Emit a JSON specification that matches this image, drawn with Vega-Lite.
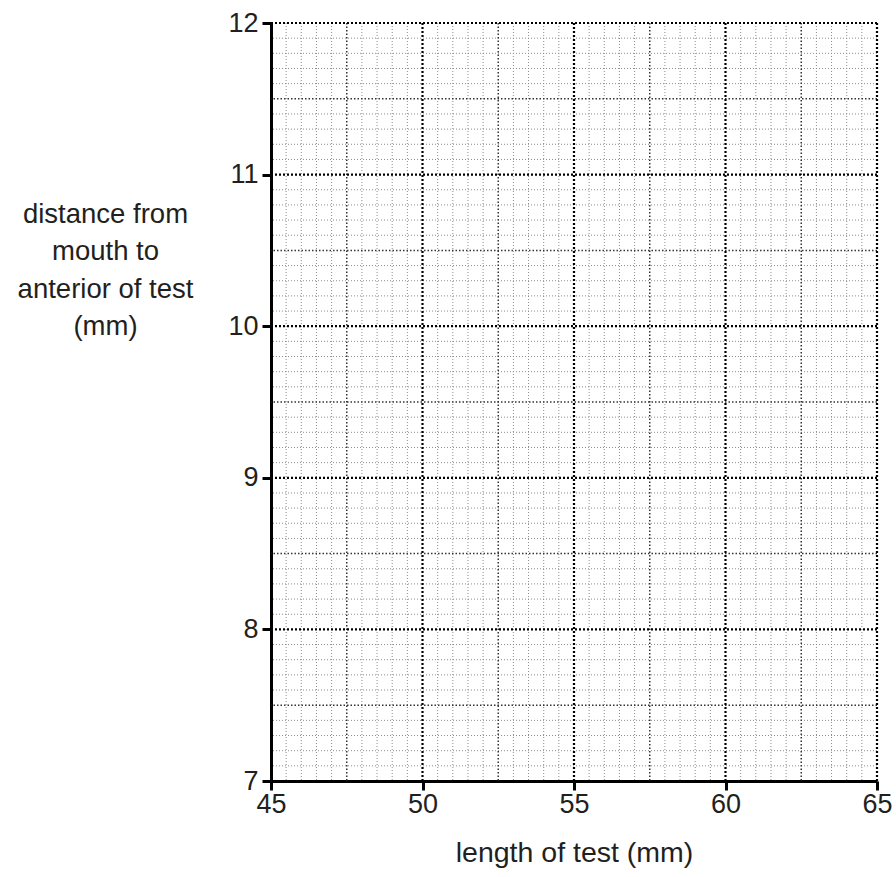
{
  "$schema": "https://vega.github.io/schema/vega-lite/v6.json",
  "width": 606,
  "height": 758,
  "autosize": {"type": "none"},
  "padding": {"left": 271, "top": 23, "right": 19, "bottom": 96},
  "background": "white",
  "config": {
    "view": {"stroke": null},
    "font": "Liberation Sans"
  },
  "datasets": {
    "xgrid": [
      {"v": 45, "level": "major"}, {"v": 45.5, "level": "minor"}, {"v": 46, "level": "minor"}, {"v": 46.5, "level": "minor"}, {"v": 47, "level": "minor"},
      {"v": 47.5, "level": "medium"}, {"v": 48, "level": "minor"}, {"v": 48.5, "level": "minor"}, {"v": 49, "level": "minor"}, {"v": 49.5, "level": "minor"},
      {"v": 50, "level": "major"}, {"v": 50.5, "level": "minor"}, {"v": 51, "level": "minor"}, {"v": 51.5, "level": "minor"}, {"v": 52, "level": "minor"},
      {"v": 52.5, "level": "medium"}, {"v": 53, "level": "minor"}, {"v": 53.5, "level": "minor"}, {"v": 54, "level": "minor"}, {"v": 54.5, "level": "minor"},
      {"v": 55, "level": "major"}, {"v": 55.5, "level": "minor"}, {"v": 56, "level": "minor"}, {"v": 56.5, "level": "minor"}, {"v": 57, "level": "minor"},
      {"v": 57.5, "level": "medium"}, {"v": 58, "level": "minor"}, {"v": 58.5, "level": "minor"}, {"v": 59, "level": "minor"}, {"v": 59.5, "level": "minor"},
      {"v": 60, "level": "major"}, {"v": 60.5, "level": "minor"}, {"v": 61, "level": "minor"}, {"v": 61.5, "level": "minor"}, {"v": 62, "level": "minor"},
      {"v": 62.5, "level": "medium"}, {"v": 63, "level": "minor"}, {"v": 63.5, "level": "minor"}, {"v": 64, "level": "minor"}, {"v": 64.5, "level": "minor"},
      {"v": 65, "level": "major"}
    ],
    "ygrid": [
      {"v": 7.0, "level": "major"}, {"v": 7.1, "level": "minor"}, {"v": 7.2, "level": "minor"}, {"v": 7.3, "level": "minor"}, {"v": 7.4, "level": "minor"},
      {"v": 7.5, "level": "medium"}, {"v": 7.6, "level": "minor"}, {"v": 7.7, "level": "minor"}, {"v": 7.8, "level": "minor"}, {"v": 7.9, "level": "minor"},
      {"v": 8.0, "level": "major"}, {"v": 8.1, "level": "minor"}, {"v": 8.2, "level": "minor"}, {"v": 8.3, "level": "minor"}, {"v": 8.4, "level": "minor"},
      {"v": 8.5, "level": "medium"}, {"v": 8.6, "level": "minor"}, {"v": 8.7, "level": "minor"}, {"v": 8.8, "level": "minor"}, {"v": 8.9, "level": "minor"},
      {"v": 9.0, "level": "major"}, {"v": 9.1, "level": "minor"}, {"v": 9.2, "level": "minor"}, {"v": 9.3, "level": "minor"}, {"v": 9.4, "level": "minor"},
      {"v": 9.5, "level": "medium"}, {"v": 9.6, "level": "minor"}, {"v": 9.7, "level": "minor"}, {"v": 9.8, "level": "minor"}, {"v": 9.9, "level": "minor"},
      {"v": 10.0, "level": "major"}, {"v": 10.1, "level": "minor"}, {"v": 10.2, "level": "minor"}, {"v": 10.3, "level": "minor"}, {"v": 10.4, "level": "minor"},
      {"v": 10.5, "level": "medium"}, {"v": 10.6, "level": "minor"}, {"v": 10.7, "level": "minor"}, {"v": 10.8, "level": "minor"}, {"v": 10.9, "level": "minor"},
      {"v": 11.0, "level": "major"}, {"v": 11.1, "level": "minor"}, {"v": 11.2, "level": "minor"}, {"v": 11.3, "level": "minor"}, {"v": 11.4, "level": "minor"},
      {"v": 11.5, "level": "medium"}, {"v": 11.6, "level": "minor"}, {"v": 11.7, "level": "minor"}, {"v": 11.8, "level": "minor"}, {"v": 11.9, "level": "minor"},
      {"v": 12.0, "level": "major"}
    ]
  },
  "layer": [
    {
      "data": {"name": "xgrid"},
      "transform": [{"filter": "datum.level == 'major'"}],
      "mark": {"type": "point", "opacity": 0},
      "encoding": {
        "x": {
          "field": "v", "type": "quantitative",
          "scale": {"domain": [45, 65], "nice": false, "zero": false},
          "axis": {
            "values": [45, 50, 55, 60, 65],
            "format": "d",
            "grid": false,
            "domainColor": "#000000", "domainWidth": 3,
            "tickColor": "#000000", "tickWidth": 3, "tickSize": 9,
            "labelFont": "Liberation Sans", "labelFontSize": 27, "labelColor": "#231f20", "labelPadding": 1,
            "labelFlush": false,
            "title": "length of test (mm)",
            "titleFont": "Liberation Sans", "titleFontSize": 28.5, "titleFontWeight": "normal", "titleColor": "#231f20",
            "titleBaseline": "alphabetic", "titleY": 80
          }
        },
        "y": {
          "datum": 7, "type": "quantitative",
          "scale": {"domain": [7, 12], "nice": false, "zero": false},
          "axis": {
            "values": [7, 8, 9, 10, 11, 12],
            "format": "d",
            "grid": false,
            "domainColor": "#000000", "domainWidth": 3,
            "tickColor": "#000000", "tickWidth": 3, "tickSize": 9,
            "labelFont": "Liberation Sans", "labelFontSize": 27, "labelColor": "#231f20", "labelPadding": 4,
            "labelFlush": false,
            "title": ["distance from", "mouth to", "anterior of test", "(mm)"],
            "titleFont": "Liberation Sans", "titleFontSize": 27.5, "titleFontWeight": "normal", "titleColor": "#231f20",
            "titleAngle": 0, "titleAlign": "center", "titleBaseline": "alphabetic",
            "titleX": -166, "titleY": 199, "titleLineHeight": 37.5
          }
        }
      }
    },
    {
      "data": {"name": "xgrid"},
      "transform": [{"filter": "datum.level == 'minor'"}],
      "mark": {"type": "rule", "stroke": "#8c8c8c", "strokeWidth": 1, "strokeDash": [1, 2]},
      "encoding": {
        "x": {"field": "v", "type": "quantitative"}
      }
    },
    {
      "data": {"name": "ygrid"},
      "transform": [{"filter": "datum.level == 'minor'"}],
      "mark": {"type": "rule", "stroke": "#8c8c8c", "strokeWidth": 1, "strokeDash": [1, 2]},
      "encoding": {
        "y": {"field": "v", "type": "quantitative"}
      }
    },
    {
      "data": {"name": "xgrid"},
      "transform": [{"filter": "datum.level == 'medium'"}],
      "mark": {"type": "rule", "stroke": "#333333", "strokeWidth": 1.5, "strokeDash": [1.5, 2]},
      "encoding": {
        "x": {"field": "v", "type": "quantitative"}
      }
    },
    {
      "data": {"name": "ygrid"},
      "transform": [{"filter": "datum.level == 'medium'"}],
      "mark": {"type": "rule", "stroke": "#333333", "strokeWidth": 1.5, "strokeDash": [1.5, 2]},
      "encoding": {
        "y": {"field": "v", "type": "quantitative"}
      }
    },
    {
      "data": {"name": "xgrid"},
      "transform": [{"filter": "datum.level == 'major' && datum.v > 45"}],
      "mark": {"type": "rule", "stroke": "#000000", "strokeWidth": 2.2, "strokeDash": [2, 2]},
      "encoding": {
        "x": {"field": "v", "type": "quantitative"}
      }
    },
    {
      "data": {"name": "ygrid"},
      "transform": [{"filter": "datum.level == 'major' && datum.v > 7"}],
      "mark": {"type": "rule", "stroke": "#000000", "strokeWidth": 2.2, "strokeDash": [2, 2]},
      "encoding": {
        "y": {"field": "v", "type": "quantitative"}
      }
    }
  ]
}
